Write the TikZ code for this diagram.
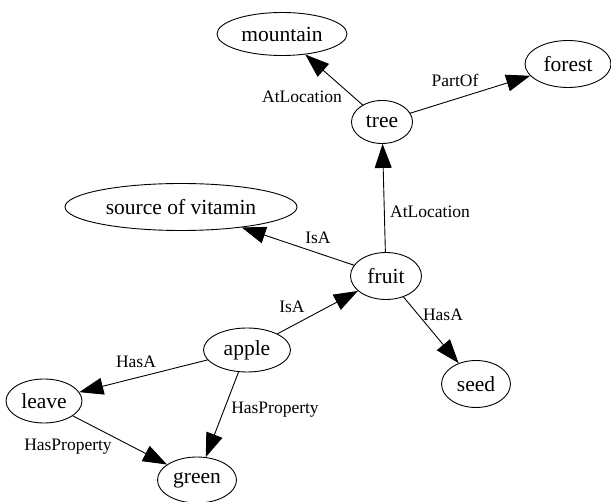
\documentclass[tikz,border=0pt]{standalone}
\usepackage{fontspec}
\setmainfont{Liberation Serif}
\usetikzlibrary{shapes.geometric}
\usetikzlibrary{arrows.meta}

\tikzset{
  concept/.style={ellipse, draw, line width=0.9pt, inner sep=0pt, font=\fontsize{21.5}{24}\selectfont},
  rel/.style={inner sep=1pt, font=\fontsize{17.5}{20}\selectfont},
  link/.style={line width=0.9pt, -{Triangle[length=24pt,width=17pt]}}
}

\begin{document}
\begin{tikzpicture}[x=1pt,y=-1pt]
\useasboundingbox (0,0) rectangle (611,502);

\foreach \n/\x/\y/\w/\h/\t in {mountain/282/34/130/43/mountain, forest/568/64/86/47/forest, tree/382/122/61/43/tree, vitamin/181/207/232/47/source of vitamin, fruit/386/276/71/47/fruit, apple/247/350/87/44/apple, seed/476/384/69/47/seed, leave/44/401/76/44/leave, green/197/480/79/46/green}
\node[concept, minimum width=\w pt, minimum height=\h pt] (\n) at (\x,\y) {\t};

\foreach \i/\j in {tree/mountain, tree/forest, fruit/tree, fruit/vitamin, apple/fruit, fruit/seed, apple/leave, apple/green, leave/green}
\draw[link] (\i) -- (\j);

\foreach \n/\x/\y/\t in {atl1/302/97/AtLocation, partof/455/80/PartOf, atl2/430/212/AtLocation, isa1/318/238/IsA, isa2/292/307/IsA, hasa1/443/315/HasA, hasa2/136/362/HasA, hasp1/275/410/HasProperty, hasp2/68/447/HasProperty}
\node[rel] (\n) at (\x,\y) {\t};

\end{tikzpicture}
\end{document}
